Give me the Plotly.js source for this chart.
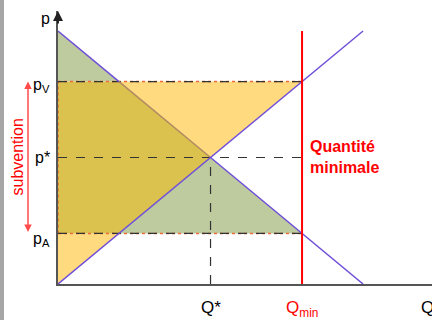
<!DOCTYPE html>
<html><head><meta charset="utf-8">
<script src="https://cdn.plot.ly/plotly-3.0.1.min.js"></script>
<style>html,body{margin:0;padding:0;background:#fff;}#c{width:432px;height:320px;}</style>
</head><body><div id="c"></div>
<script>
// Model values
const qSupply = [0, 10];
const pSupply = [0, 10];
const qDemand = [0, 10];
const pDemand = [10, 0];
const Qstar = 5, pStar = 5;
const Qmin = 8, pV = 8, pA = 2;
const axisLabels = {p: 'p', pV: 'p<sub>V</sub>', pStar: 'p*', pA: 'p<sub>A</sub>', Qstar: 'Q*', Qmin: 'Q<sub>min</sub>', Q: 'Q'};

const W = 432, H = 320, L = 58, T = 11, B = 36;
const xMax = 12.26, yMax = 10.79;
const pw = W - L, ph = H - T - B;
const FONT = 'Liberation Sans, Arial, sans-serif';
const purple = '#7050D8';
const red = '#FF0000';

// demand / supply helpers from the arrays
const dSlope = (pDemand[1]-pDemand[0])/(qDemand[1]-qDemand[0]);
const demandQ = p => qDemand[0] + (p-pDemand[0])/dSlope;
const sSlope = (pSupply[1]-pSupply[0])/(qSupply[1]-qSupply[0]);
const supplyQ = p => qSupply[0] + (p-pSupply[0])/sSlope;

const traces = [];
function poly(xs, ys, color){
  traces.push({x: xs, y: ys, mode: 'lines', fill: 'toself', fillcolor: color, line: {width: 0}, hoverinfo: 'skip', showlegend: false});
}
function line(xs, ys, color, width, dash){
  traces.push({x: xs, y: ys, mode: 'lines', line: {color: color, width: width, dash: dash || 'solid'}, hoverinfo: 'skip', showlegend: false});
}
const qD_pV = demandQ(pV), qS_pA = supplyQ(pA);
// light yellow parts
poly([0, 0, qS_pA], [0, pA, pA], '#FFDA7E');
poly([qD_pV, Qmin, Qstar], [pV, pV, pStar], '#FFDA7E');
// green parts
poly([0, 0, qD_pV], [pDemand[0], pV, pV], '#BECB9F');
poly([qS_pA, Qstar, Qmin], [pA, pStar, pA], '#BECB9F');
// overlap
poly([0, 0, qD_pV, Qstar, qS_pA], [pA, pV, pV, pStar, pA], '#DBC24E');

// red dotted outlines of subsidy rectangle
line([0, Qmin], [pV, pV], '#EE6A3A', 1.5, 'dot');
line([0, Qmin], [pA, pA], '#EE6A3A', 1.5, 'dot');
line([0, 0], [pA, pV], '#EE6A3A', 1.5, 'dot');
// black dashed guides
line([0, Qmin], [pV, pV], '#333', 1.2, 'dash');
line([0, Qmin], [pA, pA], '#333', 1.2, 'dash');
line([0, Qmin], [pStar, pStar], '#333', 1.2, 'dash');
line([Qstar, Qstar], [0, pStar], '#333', 1.2, 'dash');

// demand curve: purple outside yellow, brownish inside
line([qDemand[0], qD_pV], [pDemand[0], pV], purple, 1.5);
line([qD_pV, Qstar], [pV, pStar], '#B08A62', 1.5);
line([Qstar, qDemand[1]], [pStar, pDemand[1]], purple, 1.5);
// supply curve
line(qSupply, pSupply, purple, 1.5);
// Qmin vertical
line([Qmin, Qmin], [0, pSupply[1]], red, 2);

const xpx = px => (px - L)/pw;
const ann = [];
function lab(text, opts){ ann.push(Object.assign({text: text, showarrow: false, font: {family: FONT, size: 16, color: '#000'}}, opts)); }
lab(axisLabels.p, {xref: 'x', yref: 'paper', x: 0, y: 1, xanchor: 'right', yanchor: 'middle', xshift: -6, yshift: -7});
lab(axisLabels.pV, {xref: 'x', yref: 'y', x: 0, y: pV, xanchor: 'right', yanchor: 'middle', xshift: -6, yshift: -4});
lab(axisLabels.pStar, {xref: 'x', yref: 'y', x: 0, y: pStar, xanchor: 'right', yanchor: 'middle', xshift: -6});
lab(axisLabels.pA, {xref: 'x', yref: 'y', x: 0, y: pA, xanchor: 'right', yanchor: 'middle', xshift: -6, yshift: -6});
lab(axisLabels.Qstar, {xref: 'x', yref: 'paper', x: Qstar, y: 0, xanchor: 'center', yanchor: 'top', yshift: -12, font: {family: FONT, size: 17, color: '#000'}});
lab(axisLabels.Qmin, {xref: 'x', yref: 'paper', x: Qmin, y: 0, xanchor: 'center', yanchor: 'top', yshift: -12, font: {family: FONT, size: 17, color: red}});
lab(axisLabels.Q, {xref: 'paper', yref: 'paper', x: xpx(419), y: 0, xanchor: 'left', yanchor: 'top', yshift: -12, font: {family: FONT, size: 17, color: '#000'}});
lab('subvention', {xref: 'paper', yref: 'y', x: xpx(17), y: pStar, xanchor: 'center', yanchor: 'middle', textangle: -90, font: {family: FONT, size: 16, color: red}});
lab('<b>Quantité</b><br><b>minimale</b>', {xref: 'x', yref: 'y', x: Qmin, y: pStar, xanchor: 'left', yanchor: 'middle', xshift: 6, align: 'left', font: {family: FONT, size: 16, color: red}});
// subsidy double arrow
ann.push({xref: 'paper', yref: 'y', x: xpx(28), y: pV, axref: 'pixel', ayref: 'y', ax: 0, ay: pA, showarrow: true, arrowside: 'end+start', arrowhead: 2, arrowsize: 1, arrowwidth: 1.5, arrowcolor: '#FF4B4B', text: ''});
// p-axis arrowhead
ann.push({xref: 'x', yref: 'paper', x: 0, y: 1, ax: 0, ay: 14, showarrow: true, arrowhead: 2, arrowsize: 1, arrowwidth: 2, arrowcolor: '#222', text: ''});

const layout = {
  width: W, height: H,
  margin: {l: L, r: 0, t: T, b: B, pad: 0},
  paper_bgcolor: '#fff', plot_bgcolor: '#fff',
  showlegend: false,
  xaxis: {range: [0, xMax], showgrid: false, zeroline: false, showticklabels: false, ticks: '', showline: true, linecolor: '#555', linewidth: 2, fixedrange: true},
  yaxis: {range: [0, yMax], showgrid: false, zeroline: false, showticklabels: false, ticks: '', showline: true, linecolor: '#555', linewidth: 2, fixedrange: true},
  annotations: ann,
  shapes: [{type: 'rect', xref: 'paper', yref: 'paper', x0: xpx(0), x1: xpx(4), y0: -B/ph, y1: 1 + T/ph, fillcolor: '#A6A6A6', line: {width: 0}, layer: 'above'}]
};
Plotly.newPlot('c', traces, layout, {displayModeBar: false, staticPlot: true});
</script></body></html>
